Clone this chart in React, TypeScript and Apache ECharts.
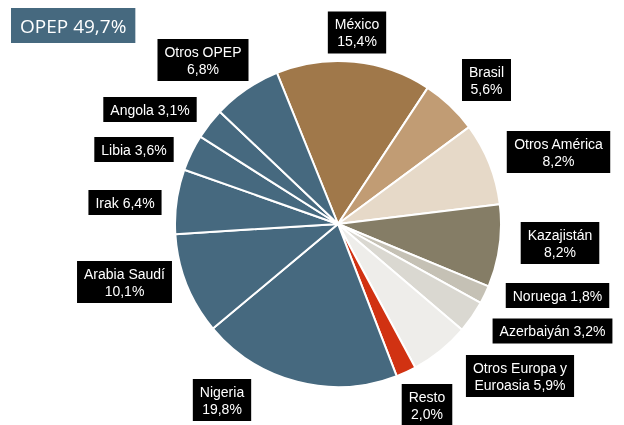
import React, { useEffect, useRef } from "react";
import * as echarts from "echarts";

const names = [
  "México", "Brasil", "Otros América", "Kazajistán", "Noruega", "Azerbaiyán",
  "Otros Europa y\nEuroasia", "Resto", "Nigeria", "Arabia Saudí", "Irak", "Libia", "Angola", "Otros OPEP",
];
const values = [15.4, 5.6, 8.2, 8.2, 1.8, 3.2, 5.9, 2.0, 19.8, 10.1, 6.4, 3.6, 3.1, 6.8];
const labelSep = ["\n", "\n", "\n", "\n", " ", " ", " ", "\n", "\n", "\n", " ", " ", " ", "\n"];
const colors = [
  "#A0784A", "#C19C74", "#E6D9C8", "#857D66", "#C5C1B5", "#DAD8D1", "#EEEDEA", "#D13212",
  "#46697F", "#46697F", "#46697F", "#46697F", "#46697F", "#46697F",
];
const opepTitle = "OPEP 49,7%";
// label box centres (layout)
const labelPos: [number, number][] = [
  [357, 32.5], [486.5, 80], [558.5, 152], [560, 243], [557.5, 295.5], [552.5, 331],
  [520, 376], [427, 405], [222, 400], [124.5, 282], [125, 202.5], [134, 149.5], [150, 109.5], [203, 60],
];

const fmt = (v: number) => v.toFixed(1).replace(".", ",") + "%";

export default function App() {
  const ref = useRef<HTMLDivElement>(null);
  useEffect(() => {
    if (!ref.current) return;
    const chart = echarts.init(ref.current, null, { renderer: "svg" });
    chart.setOption({
      animation: false,
      title: {
        text: opepTitle,
        left: 11,
        top: 8,
        backgroundColor: "#46697F",
        padding: [8, 9, 8, 9],
        textStyle: { color: "#fff", fontSize: 19, fontWeight: "normal", fontFamily: "Open Sans" },
      },
      series: [
        {
          type: "pie",
          center: [338, 224],
          radius: 163,
          startAngle: 112,
          clockwise: true,
          avoidLabelOverlap: false,
          itemStyle: { borderColor: "#fff", borderWidth: 2 },
          labelLine: { show: false },
          label: {
            show: true,
            position: "outside",
            formatter: (p: any) => {
              const i = p.dataIndex;
              return names[i] + labelSep[i] + fmt(values[i]);
            },
            color: "#fff",
            backgroundColor: "#000",
            fontFamily: "Liberation Sans",
            fontSize: 14,
            lineHeight: 17,
            padding: [4, 7, 4, 7],
            align: "center",
          },
          labelLayout: (p: any) => ({
            x: labelPos[p.dataIndex][0],
            y: labelPos[p.dataIndex][1],
            align: "center",
            verticalAlign: "middle",
          }),
          emphasis: { disabled: true },
          data: values.map((v, i) => ({
            value: v,
            name: names[i],
            itemStyle: { color: colors[i] },
          })),
        },
      ],
    });
    return () => chart.dispose();
  }, []);
  return <div ref={ref} style={{ position: "fixed", left: 0, top: 0, width: 624, height: 425 }} />;
}
